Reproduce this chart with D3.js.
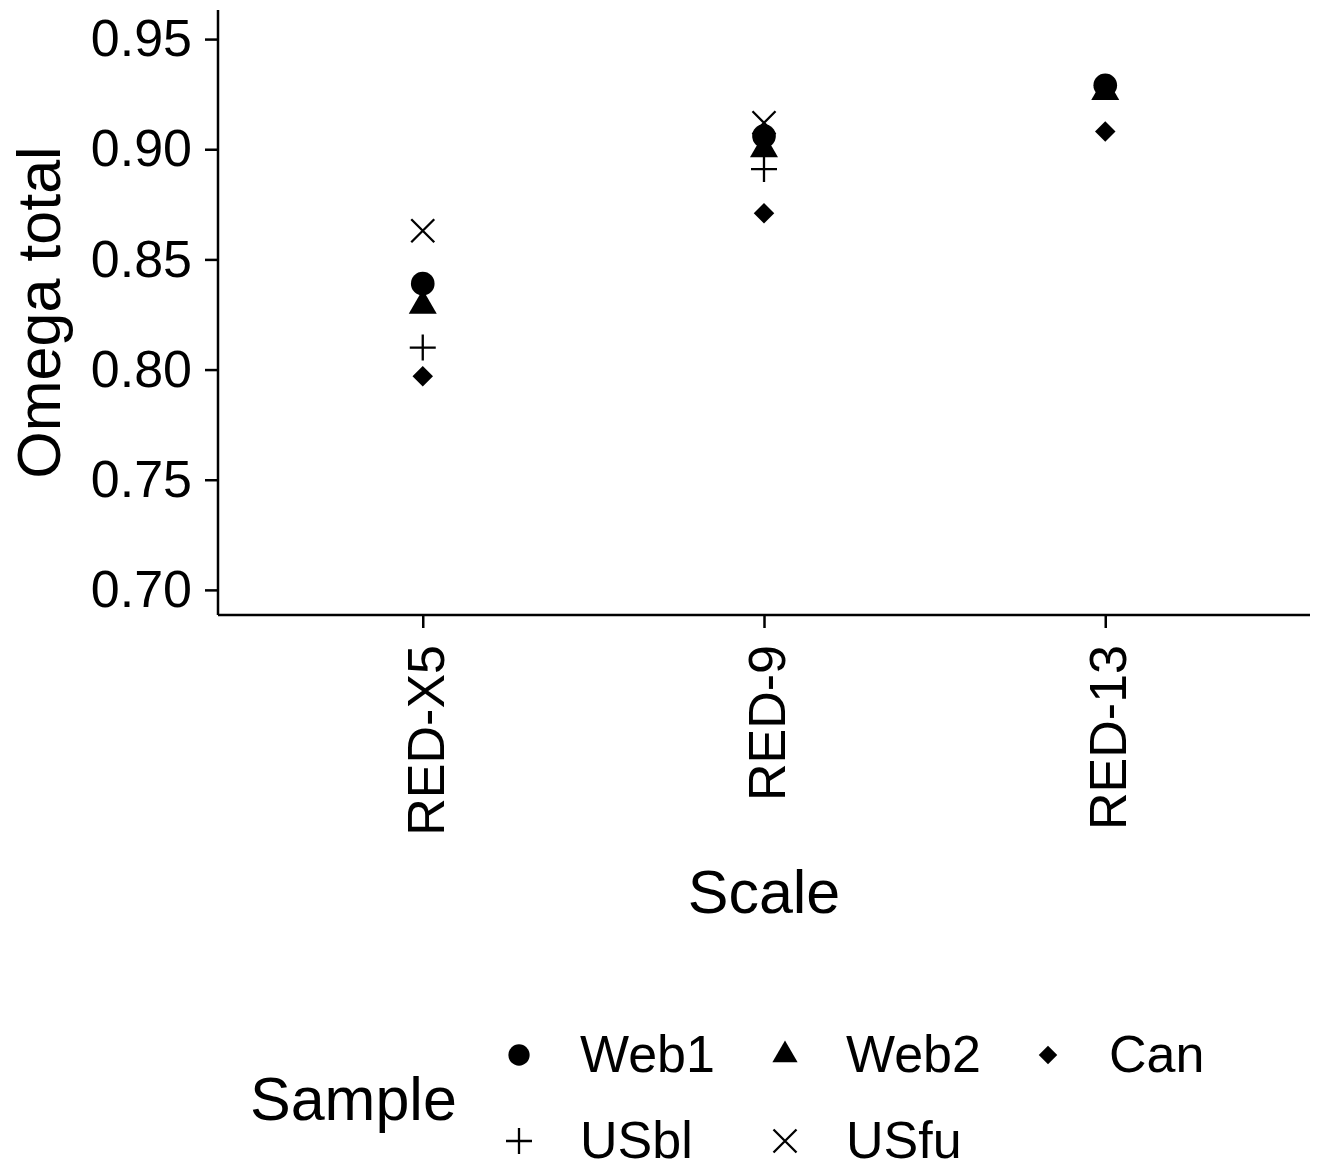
<!DOCTYPE html>
<meta charset="utf-8">
<head>
  <title>Omega total by scale</title>
  <style>
    body { margin: 0; background: #fff; }
    text { font-family: "Liberation Sans", Arial, sans-serif; fill: #000; }
  </style>
</head>
<body>
  <script src="https://d3js.org/d3.v7.min.js"></script>
  <div id="my_dataviz"></div>

  <script>
    // data
    var scales = ["RED-X5", "RED-9", "RED-13"];
    var samples = ["Web1", "Web2", "Can", "USbl", "USfu"];
    var web1 = [0.839, 0.906, 0.929];
    var web2 = [0.829, 0.900, 0.926];
    var can  = [0.797, 0.871, 0.908];
    var usbl = [0.810, 0.891, null];
    var usfu = [0.863, 0.912, null];
    var yTicks = [0.70, 0.75, 0.80, 0.85, 0.90, 0.95];

    var series = [web1, web2, can, usbl, usfu];

    var W = 1331, H = 1174;
    var margin = {top: 10, right: 21, bottom: 559, left: 218},
        width = W - margin.left - margin.right,
        height = H - margin.top - margin.bottom;

    var svg = d3.select("#my_dataviz")
      .append("svg")
        .attr("width", W)
        .attr("height", H);

    var g = svg.append("g")
        .attr("transform", "translate(" + margin.left + "," + margin.top + ")");

    // discrete x like ggplot (0.6 expansion each side)
    var x = d3.scalePoint()
      .domain(scales)
      .range([0, width])
      .padding(0.6);

    var y = d3.scaleLinear()
      .domain([0.6886, 0.9632])
      .range([height, 0]);

    // axes
    var yAxis = g.append("g")
      .call(d3.axisLeft(y).tickValues(yTicks).tickFormat(d3.format(".2f")).tickSize(13).tickPadding(13));
    var xAxis = g.append("g")
      .attr("transform", "translate(0," + height + ")")
      .call(d3.axisBottom(x).tickSize(13).tickPadding(10));

    [yAxis, xAxis].forEach(function(a) {
      a.select(".domain").attr("stroke", "#000").attr("stroke-width", 2.5);
      a.selectAll(".tick line").attr("stroke", "#000").attr("stroke-width", 2.5);
      a.selectAll("text").style("font-size", "52px").attr("fill", "#000");
    });
    yAxis.select(".domain").attr("d", "M0," + height + "V0");
    xAxis.select(".domain").attr("d", "M0,0H" + width);

    xAxis.selectAll("text")
      .attr("transform", "rotate(-90)")
      .attr("text-anchor", "end")
      .attr("x", -30)
      .attr("y", 2)
      .attr("dy", "0.36em");

    // axis titles
    svg.append("text")
      .attr("transform", "translate(60," + (margin.top + height / 2) + ") rotate(-90)")
      .attr("text-anchor", "middle")
      .style("font-size", "61px")
      .text("Omega total");

    svg.append("text")
      .attr("x", margin.left + x("RED-9"))
      .attr("y", 913)
      .attr("text-anchor", "middle")
      .style("font-size", "61px")
      .text("Scale");

    // shape drawing
    function shapePath(name, s) {
      if (name === "Web1") return d3.symbol(d3.symbolCircle, 440 * s * s)();
      if (name === "Web2") return d3.symbol(d3.symbolTriangle, 340 * s * s)();
      if (name === "Can") return d3.symbol(d3.symbolSquare, 210 * s * s)();
      var r = (name === "USbl" ? 13 : 11.5) * s;
      if (name === "USbl") return "M" + (-r) + ",0H" + r + "M0," + (-r) + "V" + r;
      return "M" + (-r) + "," + (-r) + "L" + r + "," + r + "M" + (-r) + "," + r + "L" + r + "," + (-r);
    }
    function drawShape(sel, name, s) {
      var p = sel.append("path").attr("d", shapePath(name, s));
      if (name === "USbl" || name === "USfu") {
        p.attr("fill", "none").attr("stroke", "#000").attr("stroke-width", 2.3);
      } else {
        p.attr("fill", "#000");
      }
      if (name === "Can") p.attr("transform", "rotate(45)");
      return p;
    }

    // points (draw order as ggplot: by sample)
    var pts = [];
    samples.forEach(function(name, i) {
      scales.forEach(function(sc, j) {
        if (series[i][j] != null) pts.push({sample: name, scale: sc, value: series[i][j]});
      });
    });

    pts.forEach(function(d) {
      var pg = g.append("g")
        .attr("transform", "translate(" + x(d.scale) + "," + y(d.value) + ")");
      drawShape(pg, d.sample, 1);
    });

    // legend
    var legend = svg.append("g");
    legend.append("text")
      .attr("x", 250)
      .attr("y", 1120)
      .style("font-size", "61px")
      .text("Sample");

    var keyX = [519, 785, 1048], rowY = [1055, 1141];
    samples.forEach(function(name, i) {
      var row = Math.floor(i / 3), col = i % 3;
      var kg = legend.append("g")
        .attr("transform", "translate(" + keyX[col] + "," + rowY[row] + ")");
      drawShape(kg, name, row === 1 ? 1 : 0.9);
      legend.append("text")
        .attr("x", keyX[col] + 61)
        .attr("y", rowY[row])
        .attr("dy", "0.32em")
        .style("font-size", "52px")
        .text(name);
    });
  </script>
</body>
